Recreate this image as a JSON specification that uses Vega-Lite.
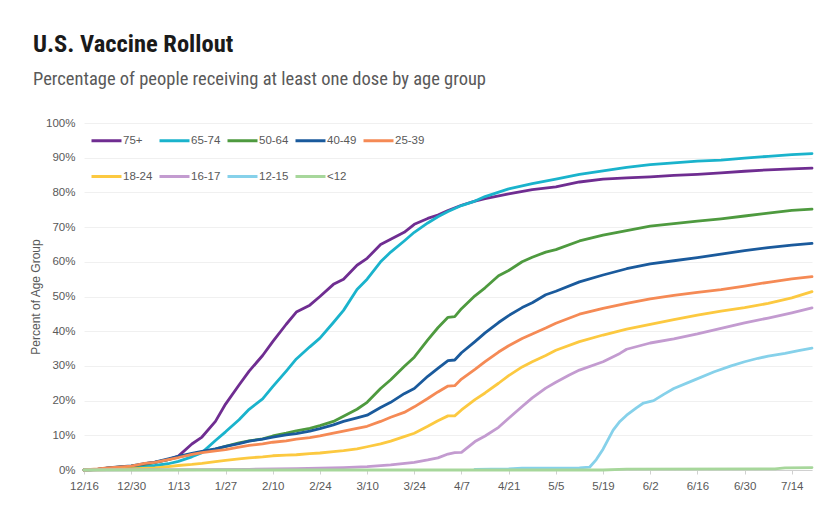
{
"$schema":"https://vega.github.io/schema/vega-lite/v6.json",
"width":728,"height":347,
"autosize":"none",
"padding":{"left":84,"top":123,"right":19,"bottom":50},
"background":"white",
"title":{"text":"U.S. Vaccine Rollout","subtitle":"Percentage of people receiving at least one dose by age group","anchor":"start","frame":"group","dx":-51,"offset":28,"font":"Roboto Condensed, Liberation Sans Narrow, DejaVu Sans Condensed, Roboto","fontSize":24.5,"fontWeight":"bold","color":"#1a1a1a","subtitleFont":"Roboto Condensed, Liberation Sans Narrow, Roboto","subtitleFontSize":18.5,"subtitleColor":"#595959","subtitlePadding":12},
"config":{"view":{"stroke":null}},
"data":{"format":{"parse":{"d":"date:'%Y-%m-%d'"}},"values":[
{"g":"75+","d":"2020-12-16","v":0},{"g":"75+","d":"2020-12-20","v":0.2},{"g":"75+","d":"2020-12-23","v":0.5},{"g":"75+","d":"2020-12-27","v":0.8},{"g":"75+","d":"2020-12-30","v":1.0},{"g":"75+","d":"2021-01-03","v":1.8},{"g":"75+","d":"2021-01-06","v":2.2},{"g":"75+","d":"2021-01-10","v":3.0},{"g":"75+","d":"2021-01-13","v":4.0},{"g":"75+","d":"2021-01-17","v":7.5},{"g":"75+","d":"2021-01-20","v":9.5},{"g":"75+","d":"2021-01-24","v":14},{"g":"75+","d":"2021-01-27","v":19},{"g":"75+","d":"2021-01-31","v":24.5},{"g":"75+","d":"2021-02-03","v":28.5},{"g":"75+","d":"2021-02-07","v":33},{"g":"75+","d":"2021-02-10","v":37},{"g":"75+","d":"2021-02-14","v":42},{"g":"75+","d":"2021-02-17","v":45.5},{"g":"75+","d":"2021-02-21","v":47.5},{"g":"75+","d":"2021-02-24","v":50},{"g":"75+","d":"2021-02-28","v":53.5},{"g":"75+","d":"2021-03-03","v":55},{"g":"75+","d":"2021-03-07","v":59},{"g":"75+","d":"2021-03-10","v":61},{"g":"75+","d":"2021-03-14","v":65},{"g":"75+","d":"2021-03-17","v":66.5},{"g":"75+","d":"2021-03-21","v":68.5},{"g":"75+","d":"2021-03-24","v":70.8},{"g":"75+","d":"2021-03-28","v":72.5},{"g":"75+","d":"2021-03-31","v":73.5},{"g":"75+","d":"2021-04-03","v":74.8},{"g":"75+","d":"2021-04-07","v":76.3},{"g":"75+","d":"2021-04-11","v":77.5},{"g":"75+","d":"2021-04-14","v":78.2},{"g":"75+","d":"2021-04-21","v":79.6},{"g":"75+","d":"2021-04-28","v":80.8},{"g":"75+","d":"2021-05-05","v":81.6},{"g":"75+","d":"2021-05-12","v":83},{"g":"75+","d":"2021-05-19","v":83.8},{"g":"75+","d":"2021-05-26","v":84.2},{"g":"75+","d":"2021-06-02","v":84.5},{"g":"75+","d":"2021-06-09","v":84.9},{"g":"75+","d":"2021-06-16","v":85.2},{"g":"75+","d":"2021-06-23","v":85.6},{"g":"75+","d":"2021-06-30","v":86.1},{"g":"75+","d":"2021-07-07","v":86.5},{"g":"75+","d":"2021-07-14","v":86.8},{"g":"75+","d":"2021-07-20","v":87.0},
{"g":"65-74","d":"2020-12-16","v":0},{"g":"65-74","d":"2020-12-20","v":0.1},{"g":"65-74","d":"2020-12-23","v":0.3},{"g":"65-74","d":"2020-12-27","v":0.5},{"g":"65-74","d":"2020-12-30","v":0.7},{"g":"65-74","d":"2021-01-03","v":1.0},{"g":"65-74","d":"2021-01-06","v":1.3},{"g":"65-74","d":"2021-01-10","v":1.8},{"g":"65-74","d":"2021-01-13","v":2.5},{"g":"65-74","d":"2021-01-17","v":3.8},{"g":"65-74","d":"2021-01-20","v":5.0},{"g":"65-74","d":"2021-01-24","v":8.5},{"g":"65-74","d":"2021-01-27","v":11},{"g":"65-74","d":"2021-01-31","v":14.5},{"g":"65-74","d":"2021-02-03","v":17.5},{"g":"65-74","d":"2021-02-07","v":20.5},{"g":"65-74","d":"2021-02-10","v":24},{"g":"65-74","d":"2021-02-14","v":28.5},{"g":"65-74","d":"2021-02-17","v":32},{"g":"65-74","d":"2021-02-21","v":35.5},{"g":"65-74","d":"2021-02-24","v":38},{"g":"65-74","d":"2021-02-28","v":42.5},{"g":"65-74","d":"2021-03-03","v":46},{"g":"65-74","d":"2021-03-07","v":52},{"g":"65-74","d":"2021-03-10","v":55},{"g":"65-74","d":"2021-03-14","v":60},{"g":"65-74","d":"2021-03-17","v":62.8},{"g":"65-74","d":"2021-03-21","v":66},{"g":"65-74","d":"2021-03-24","v":68.5},{"g":"65-74","d":"2021-03-28","v":71.2},{"g":"65-74","d":"2021-03-31","v":73},{"g":"65-74","d":"2021-04-03","v":74.5},{"g":"65-74","d":"2021-04-07","v":76.2},{"g":"65-74","d":"2021-04-11","v":77.5},{"g":"65-74","d":"2021-04-14","v":78.8},{"g":"65-74","d":"2021-04-21","v":81},{"g":"65-74","d":"2021-04-28","v":82.5},{"g":"65-74","d":"2021-05-05","v":83.8},{"g":"65-74","d":"2021-05-12","v":85.2},{"g":"65-74","d":"2021-05-19","v":86.2},{"g":"65-74","d":"2021-05-26","v":87.2},{"g":"65-74","d":"2021-06-02","v":88},{"g":"65-74","d":"2021-06-09","v":88.5},{"g":"65-74","d":"2021-06-16","v":89},{"g":"65-74","d":"2021-06-23","v":89.3},{"g":"65-74","d":"2021-06-30","v":89.9},{"g":"65-74","d":"2021-07-07","v":90.4},{"g":"65-74","d":"2021-07-14","v":90.9},{"g":"65-74","d":"2021-07-20","v":91.2},
{"g":"50-64","d":"2020-12-16","v":0},{"g":"50-64","d":"2020-12-20","v":0.2},{"g":"50-64","d":"2020-12-23","v":0.5},{"g":"50-64","d":"2020-12-27","v":0.9},{"g":"50-64","d":"2020-12-30","v":1.1},{"g":"50-64","d":"2021-01-03","v":1.6},{"g":"50-64","d":"2021-01-06","v":2.2},{"g":"50-64","d":"2021-01-10","v":3.0},{"g":"50-64","d":"2021-01-13","v":3.8},{"g":"50-64","d":"2021-01-17","v":4.6},{"g":"50-64","d":"2021-01-20","v":5.2},{"g":"50-64","d":"2021-01-24","v":6.0},{"g":"50-64","d":"2021-01-27","v":6.8},{"g":"50-64","d":"2021-01-31","v":7.8},{"g":"50-64","d":"2021-02-03","v":8.4},{"g":"50-64","d":"2021-02-07","v":9.0},{"g":"50-64","d":"2021-02-10","v":9.8},{"g":"50-64","d":"2021-02-14","v":10.6},{"g":"50-64","d":"2021-02-17","v":11.3},{"g":"50-64","d":"2021-02-21","v":12.0},{"g":"50-64","d":"2021-02-24","v":12.8},{"g":"50-64","d":"2021-02-28","v":14.0},{"g":"50-64","d":"2021-03-03","v":15.5},{"g":"50-64","d":"2021-03-07","v":17.5},{"g":"50-64","d":"2021-03-10","v":19.5},{"g":"50-64","d":"2021-03-14","v":23.5},{"g":"50-64","d":"2021-03-17","v":26},{"g":"50-64","d":"2021-03-21","v":29.8},{"g":"50-64","d":"2021-03-24","v":32.5},{"g":"50-64","d":"2021-03-28","v":37.5},{"g":"50-64","d":"2021-03-31","v":41},{"g":"50-64","d":"2021-04-03","v":44},{"g":"50-64","d":"2021-04-05","v":44.2},{"g":"50-64","d":"2021-04-07","v":46.5},{"g":"50-64","d":"2021-04-11","v":50.2},{"g":"50-64","d":"2021-04-14","v":52.5},{"g":"50-64","d":"2021-04-18","v":56},{"g":"50-64","d":"2021-04-21","v":57.5},{"g":"50-64","d":"2021-04-25","v":60},{"g":"50-64","d":"2021-04-28","v":61.3},{"g":"50-64","d":"2021-05-02","v":62.8},{"g":"50-64","d":"2021-05-05","v":63.5},{"g":"50-64","d":"2021-05-12","v":66},{"g":"50-64","d":"2021-05-19","v":67.7},{"g":"50-64","d":"2021-05-26","v":69},{"g":"50-64","d":"2021-06-02","v":70.3},{"g":"50-64","d":"2021-06-09","v":71},{"g":"50-64","d":"2021-06-16","v":71.7},{"g":"50-64","d":"2021-06-23","v":72.4},{"g":"50-64","d":"2021-06-30","v":73.2},{"g":"50-64","d":"2021-07-07","v":74},{"g":"50-64","d":"2021-07-14","v":74.8},{"g":"50-64","d":"2021-07-20","v":75.2},
{"g":"40-49","d":"2020-12-16","v":0},{"g":"40-49","d":"2020-12-20","v":0.2},{"g":"40-49","d":"2020-12-23","v":0.6},{"g":"40-49","d":"2020-12-27","v":1.0},{"g":"40-49","d":"2020-12-30","v":1.2},{"g":"40-49","d":"2021-01-03","v":1.8},{"g":"40-49","d":"2021-01-06","v":2.3},{"g":"40-49","d":"2021-01-10","v":3.2},{"g":"40-49","d":"2021-01-13","v":3.9},{"g":"40-49","d":"2021-01-17","v":4.8},{"g":"40-49","d":"2021-01-20","v":5.4},{"g":"40-49","d":"2021-01-24","v":6.1},{"g":"40-49","d":"2021-01-27","v":6.8},{"g":"40-49","d":"2021-01-31","v":7.6},{"g":"40-49","d":"2021-02-03","v":8.3},{"g":"40-49","d":"2021-02-07","v":8.9},{"g":"40-49","d":"2021-02-10","v":9.5},{"g":"40-49","d":"2021-02-14","v":10.1},{"g":"40-49","d":"2021-02-17","v":10.5},{"g":"40-49","d":"2021-02-21","v":11.2},{"g":"40-49","d":"2021-02-24","v":11.9},{"g":"40-49","d":"2021-02-28","v":13},{"g":"40-49","d":"2021-03-03","v":14},{"g":"40-49","d":"2021-03-07","v":15},{"g":"40-49","d":"2021-03-10","v":15.8},{"g":"40-49","d":"2021-03-14","v":18.0},{"g":"40-49","d":"2021-03-17","v":19.5},{"g":"40-49","d":"2021-03-21","v":22},{"g":"40-49","d":"2021-03-24","v":23.5},{"g":"40-49","d":"2021-03-28","v":27},{"g":"40-49","d":"2021-03-31","v":29.3},{"g":"40-49","d":"2021-04-03","v":31.5},{"g":"40-49","d":"2021-04-05","v":31.7},{"g":"40-49","d":"2021-04-07","v":33.8},{"g":"40-49","d":"2021-04-11","v":37},{"g":"40-49","d":"2021-04-14","v":39.5},{"g":"40-49","d":"2021-04-18","v":42.5},{"g":"40-49","d":"2021-04-21","v":44.5},{"g":"40-49","d":"2021-04-25","v":46.8},{"g":"40-49","d":"2021-04-28","v":48.2},{"g":"40-49","d":"2021-05-02","v":50.5},{"g":"40-49","d":"2021-05-05","v":51.5},{"g":"40-49","d":"2021-05-12","v":54.2},{"g":"40-49","d":"2021-05-19","v":56.2},{"g":"40-49","d":"2021-05-26","v":58},{"g":"40-49","d":"2021-06-02","v":59.4},{"g":"40-49","d":"2021-06-09","v":60.3},{"g":"40-49","d":"2021-06-16","v":61.2},{"g":"40-49","d":"2021-06-23","v":62.2},{"g":"40-49","d":"2021-06-30","v":63.2},{"g":"40-49","d":"2021-07-07","v":64.1},{"g":"40-49","d":"2021-07-14","v":64.8},{"g":"40-49","d":"2021-07-20","v":65.3},
{"g":"25-39","d":"2020-12-16","v":0},{"g":"25-39","d":"2020-12-20","v":0.3},{"g":"25-39","d":"2020-12-23","v":0.6},{"g":"25-39","d":"2020-12-27","v":0.9},{"g":"25-39","d":"2020-12-30","v":1.1},{"g":"25-39","d":"2021-01-03","v":1.9},{"g":"25-39","d":"2021-01-06","v":2.2},{"g":"25-39","d":"2021-01-10","v":3.0},{"g":"25-39","d":"2021-01-13","v":3.6},{"g":"25-39","d":"2021-01-17","v":4.5},{"g":"25-39","d":"2021-01-20","v":5.0},{"g":"25-39","d":"2021-01-24","v":5.5},{"g":"25-39","d":"2021-01-27","v":5.9},{"g":"25-39","d":"2021-01-31","v":6.6},{"g":"25-39","d":"2021-02-03","v":7.1},{"g":"25-39","d":"2021-02-07","v":7.5},{"g":"25-39","d":"2021-02-10","v":8.0},{"g":"25-39","d":"2021-02-14","v":8.4},{"g":"25-39","d":"2021-02-17","v":8.9},{"g":"25-39","d":"2021-02-21","v":9.3},{"g":"25-39","d":"2021-02-24","v":9.8},{"g":"25-39","d":"2021-02-28","v":10.6},{"g":"25-39","d":"2021-03-03","v":11.2},{"g":"25-39","d":"2021-03-07","v":12},{"g":"25-39","d":"2021-03-10","v":12.6},{"g":"25-39","d":"2021-03-14","v":14},{"g":"25-39","d":"2021-03-17","v":15.2},{"g":"25-39","d":"2021-03-21","v":16.6},{"g":"25-39","d":"2021-03-24","v":18.2},{"g":"25-39","d":"2021-03-28","v":20.6},{"g":"25-39","d":"2021-03-31","v":22.5},{"g":"25-39","d":"2021-04-03","v":24.2},{"g":"25-39","d":"2021-04-05","v":24.3},{"g":"25-39","d":"2021-04-07","v":26.2},{"g":"25-39","d":"2021-04-11","v":29},{"g":"25-39","d":"2021-04-14","v":31.2},{"g":"25-39","d":"2021-04-18","v":34},{"g":"25-39","d":"2021-04-21","v":35.8},{"g":"25-39","d":"2021-04-25","v":37.9},{"g":"25-39","d":"2021-04-28","v":39.2},{"g":"25-39","d":"2021-05-02","v":40.9},{"g":"25-39","d":"2021-05-05","v":42.3},{"g":"25-39","d":"2021-05-12","v":44.9},{"g":"25-39","d":"2021-05-19","v":46.6},{"g":"25-39","d":"2021-05-26","v":48},{"g":"25-39","d":"2021-06-02","v":49.3},{"g":"25-39","d":"2021-06-09","v":50.3},{"g":"25-39","d":"2021-06-16","v":51.2},{"g":"25-39","d":"2021-06-23","v":52},{"g":"25-39","d":"2021-06-30","v":53},{"g":"25-39","d":"2021-07-07","v":54.1},{"g":"25-39","d":"2021-07-14","v":55.1},{"g":"25-39","d":"2021-07-20","v":55.7},
{"g":"18-24","d":"2020-12-16","v":0},{"g":"18-24","d":"2020-12-23","v":0.1},{"g":"18-24","d":"2020-12-30","v":0.3},{"g":"18-24","d":"2021-01-06","v":0.6},{"g":"18-24","d":"2021-01-10","v":1.0},{"g":"18-24","d":"2021-01-13","v":1.3},{"g":"18-24","d":"2021-01-17","v":1.6},{"g":"18-24","d":"2021-01-20","v":1.9},{"g":"18-24","d":"2021-01-24","v":2.4},{"g":"18-24","d":"2021-01-27","v":2.8},{"g":"18-24","d":"2021-01-31","v":3.2},{"g":"18-24","d":"2021-02-03","v":3.5},{"g":"18-24","d":"2021-02-07","v":3.8},{"g":"18-24","d":"2021-02-10","v":4.1},{"g":"18-24","d":"2021-02-14","v":4.3},{"g":"18-24","d":"2021-02-17","v":4.4},{"g":"18-24","d":"2021-02-21","v":4.7},{"g":"18-24","d":"2021-02-24","v":4.9},{"g":"18-24","d":"2021-02-28","v":5.3},{"g":"18-24","d":"2021-03-03","v":5.6},{"g":"18-24","d":"2021-03-07","v":6.1},{"g":"18-24","d":"2021-03-10","v":6.7},{"g":"18-24","d":"2021-03-14","v":7.5},{"g":"18-24","d":"2021-03-17","v":8.3},{"g":"18-24","d":"2021-03-21","v":9.6},{"g":"18-24","d":"2021-03-24","v":10.6},{"g":"18-24","d":"2021-03-28","v":12.6},{"g":"18-24","d":"2021-03-31","v":14.2},{"g":"18-24","d":"2021-04-03","v":15.6},{"g":"18-24","d":"2021-04-05","v":15.6},{"g":"18-24","d":"2021-04-07","v":17.3},{"g":"18-24","d":"2021-04-11","v":20.3},{"g":"18-24","d":"2021-04-14","v":22.2},{"g":"18-24","d":"2021-04-18","v":25},{"g":"18-24","d":"2021-04-21","v":27.2},{"g":"18-24","d":"2021-04-25","v":29.7},{"g":"18-24","d":"2021-04-28","v":31.2},{"g":"18-24","d":"2021-05-02","v":33},{"g":"18-24","d":"2021-05-05","v":34.5},{"g":"18-24","d":"2021-05-12","v":37},{"g":"18-24","d":"2021-05-19","v":38.9},{"g":"18-24","d":"2021-05-26","v":40.6},{"g":"18-24","d":"2021-06-02","v":42},{"g":"18-24","d":"2021-06-09","v":43.3},{"g":"18-24","d":"2021-06-16","v":44.6},{"g":"18-24","d":"2021-06-23","v":45.8},{"g":"18-24","d":"2021-06-30","v":46.8},{"g":"18-24","d":"2021-07-07","v":48},{"g":"18-24","d":"2021-07-14","v":49.6},{"g":"18-24","d":"2021-07-20","v":51.4},
{"g":"16-17","d":"2020-12-16","v":0},{"g":"16-17","d":"2021-01-20","v":0.1},{"g":"16-17","d":"2021-02-03","v":0.2},{"g":"16-17","d":"2021-02-17","v":0.4},{"g":"16-17","d":"2021-02-24","v":0.5},{"g":"16-17","d":"2021-03-03","v":0.7},{"g":"16-17","d":"2021-03-10","v":1.0},{"g":"16-17","d":"2021-03-17","v":1.5},{"g":"16-17","d":"2021-03-24","v":2.2},{"g":"16-17","d":"2021-03-28","v":2.9},{"g":"16-17","d":"2021-03-31","v":3.5},{"g":"16-17","d":"2021-04-03","v":4.6},{"g":"16-17","d":"2021-04-05","v":5.0},{"g":"16-17","d":"2021-04-07","v":5.1},{"g":"16-17","d":"2021-04-11","v":8.2},{"g":"16-17","d":"2021-04-14","v":9.8},{"g":"16-17","d":"2021-04-18","v":12.3},{"g":"16-17","d":"2021-04-21","v":14.9},{"g":"16-17","d":"2021-04-25","v":18.3},{"g":"16-17","d":"2021-04-28","v":20.8},{"g":"16-17","d":"2021-05-02","v":23.6},{"g":"16-17","d":"2021-05-05","v":25.3},{"g":"16-17","d":"2021-05-09","v":27.4},{"g":"16-17","d":"2021-05-12","v":28.8},{"g":"16-17","d":"2021-05-19","v":31.2},{"g":"16-17","d":"2021-05-24","v":33.6},{"g":"16-17","d":"2021-05-26","v":34.8},{"g":"16-17","d":"2021-06-02","v":36.6},{"g":"16-17","d":"2021-06-09","v":37.8},{"g":"16-17","d":"2021-06-16","v":39.2},{"g":"16-17","d":"2021-06-23","v":40.8},{"g":"16-17","d":"2021-06-30","v":42.4},{"g":"16-17","d":"2021-07-07","v":43.8},{"g":"16-17","d":"2021-07-14","v":45.3},{"g":"16-17","d":"2021-07-20","v":46.7},
{"g":"12-15","d":"2021-04-11","v":0.2},{"g":"12-15","d":"2021-04-21","v":0.3},{"g":"12-15","d":"2021-04-25","v":0.5},{"g":"12-15","d":"2021-05-12","v":0.6},{"g":"12-15","d":"2021-05-15","v":0.8},{"g":"12-15","d":"2021-05-17","v":3},{"g":"12-15","d":"2021-05-19","v":6},{"g":"12-15","d":"2021-05-22","v":11.5},{"g":"12-15","d":"2021-05-24","v":14},{"g":"12-15","d":"2021-05-26","v":15.8},{"g":"12-15","d":"2021-05-29","v":18},{"g":"12-15","d":"2021-05-31","v":19.3},{"g":"12-15","d":"2021-06-03","v":20},{"g":"12-15","d":"2021-06-06","v":21.8},{"g":"12-15","d":"2021-06-09","v":23.5},{"g":"12-15","d":"2021-06-15","v":25.9},{"g":"12-15","d":"2021-06-21","v":28.3},{"g":"12-15","d":"2021-06-26","v":30},{"g":"12-15","d":"2021-06-30","v":31.2},{"g":"12-15","d":"2021-07-04","v":32.2},{"g":"12-15","d":"2021-07-07","v":32.8},{"g":"12-15","d":"2021-07-12","v":33.6},{"g":"12-15","d":"2021-07-16","v":34.4},{"g":"12-15","d":"2021-07-20","v":35.1},
{"g":"<12","d":"2020-12-16","v":0},{"g":"<12","d":"2021-05-19","v":0},{"g":"<12","d":"2021-05-26","v":0.25},{"g":"<12","d":"2021-07-09","v":0.3},{"g":"<12","d":"2021-07-12","v":0.6},{"g":"<12","d":"2021-07-20","v":0.7}
]},
"mark":{"type":"line","strokeWidth":2.8,"strokeJoin":"round","strokeCap":"round"},
"encoding":{
"x":{"field":"d","type":"temporal","scale":{"domain":[{"year":2020,"month":12,"date":16},{"year":2021,"month":7,"date":20}]},
"axis":{"title":null,"format":"%-m/%-d","grid":false,"values":[{"year":2020,"month":12,"date":16},{"year":2020,"month":12,"date":30},{"year":2021,"month":1,"date":13},{"year":2021,"month":1,"date":27},{"year":2021,"month":2,"date":10},{"year":2021,"month":2,"date":24},{"year":2021,"month":3,"date":10},{"year":2021,"month":3,"date":24},{"year":2021,"month":4,"date":7},{"year":2021,"month":4,"date":21},{"year":2021,"month":5,"date":5},{"year":2021,"month":5,"date":19},{"year":2021,"month":6,"date":2},{"year":2021,"month":6,"date":16},{"year":2021,"month":6,"date":30},{"year":2021,"month":7,"date":14}],"domainColor":"#d0d0d0","domainWidth":1.2,"tickColor":"#d0d0d0","tickSize":4,"labelPadding":6,"labelColor":"#595959","labelFontSize":11.5,"labelFont":"Liberation Sans","labelFlush":false,"labelOverlap":false}},
"y":{"field":"v","type":"quantitative","scale":{"domain":[0,100]},
"axis":{"values":[0,10,20,30,40,50,60,70,80,90,100],"labelExpr":"datum.value + '%'","title":"Percent of Age Group","titleFontWeight":"normal","titleFont":"Liberation Sans","titleFontSize":12,"titleColor":"#595959","titlePadding":3,"domain":false,"ticks":false,"gridColor":"#f0f0f0","gridWidth":1,"labelColor":"#595959","labelFontSize":11.5,"labelFont":"Liberation Sans","labelPadding":9}},
"color":{"field":"g","type":"nominal","sort":["75+","65-74","50-64","40-49","25-39","18-24","16-17","12-15","<12"],
"scale":{"domain":["75+","65-74","50-64","40-49","25-39","18-24","16-17","12-15","<12"],"range":["#6f2d91","#1ab3cc","#4e9a3f","#1a5a9c","#f58a55","#fcc940","#c39bd0","#86d1ea","#a7d79b"]},
"legend":{"orient":"none","legendX":6,"legendY":1,"direction":"horizontal","columns":5,"title":null,"symbolType":"stroke","symbolSize":900,"symbolStrokeWidth":3,"labelFontSize":11.5,"labelColor":"#595959","labelFont":"Liberation Sans","labelOffset":0,"columnPadding":0,"rowPadding":13,"gridAlign":"all"}}
}
}
